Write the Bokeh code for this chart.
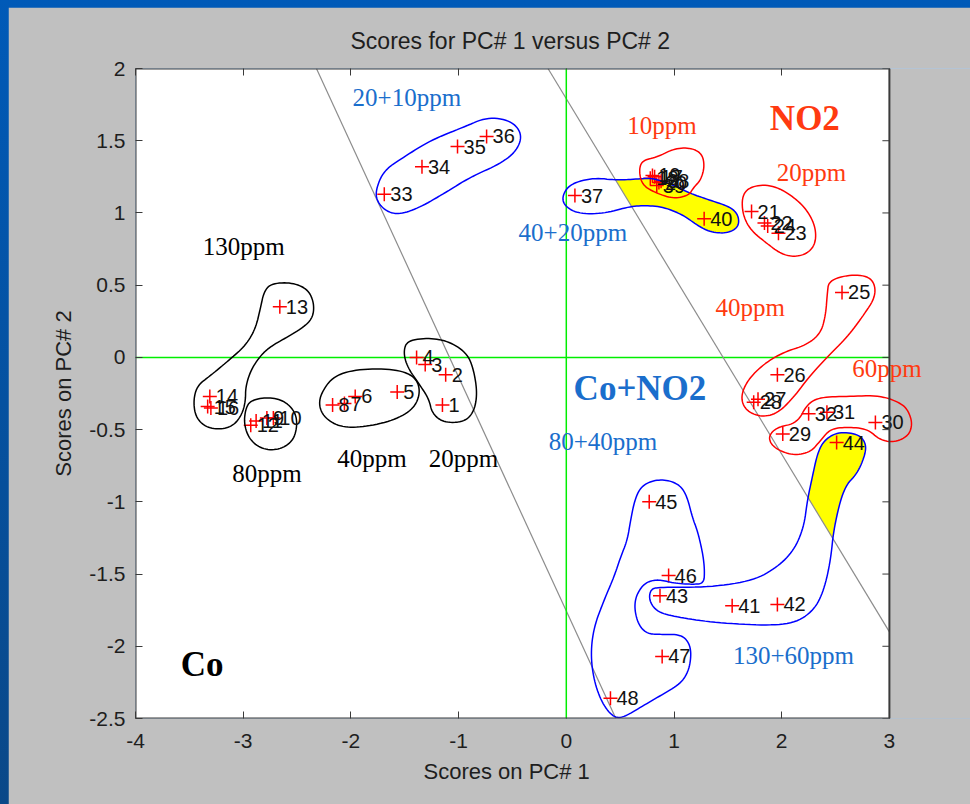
import numpy as np
from bokeh.plotting import figure
from bokeh.models import (Range1d, FixedTicker, LinearAxis, CustomJSTickFormatter, Title,
                          ColumnDataSource, Label, PolyAnnotation, Span, BoxAnnotation)
from bokeh.layouts import column
from bokeh.embed import file_html
from bokeh.resources import INLINE

# ---------------- data ----------------
sample_id = [str(i) for i in range(1, 49)]
pc1 = [-1.15, -1.12, -1.31, -1.39, -1.57, -1.96, -2.06, -2.17, -2.78, -2.72,
       -2.88, -2.93, -2.66, -3.31, -3.33, -3.30, 0.82, 0.78, 0.80, 0.86,
       1.72, 1.84, 1.97, 1.87, 2.56, 1.96, 1.78, 1.74, 2.01, 2.87,
       2.42, 2.25, -1.69, -1.34, -1.01, -0.74, 0.08, 0.88, 0.84, 1.28,
       1.54, 1.96, 0.87, 2.51, 0.77, 0.95, 0.89, 0.41]
pc2 = [-0.33, -0.12, -0.05, 0.00, -0.24, -0.27, -0.32, -0.33, -0.42, -0.42,
       -0.44, -0.47, 0.35, -0.27, -0.34, -0.35, 1.25, 1.24, 1.26, 1.21,
       1.01, 0.93, 0.86, 0.91, 0.45, -0.12, -0.29, -0.31, -0.53, -0.45,
       -0.38, -0.39, 1.13, 1.32, 1.46, 1.53, 1.12, 1.22, 1.19, 0.96,
       -1.72, -1.71, -1.65, -0.59, -1.00, -1.51, -2.07, -2.36]

x_ticks = [-4, -3, -2, -1, 0, 1, 2, 3]
x_tick_labels = ["-4", "-3", "-2", "-1", "0", "1", "2", "3"]
y_ticks = [-2.5, -2, -1.5, -1, -0.5, 0, 0.5, 1, 1.5, 2]
y_tick_labels = ["-2.5", "-2", "-1.5", "-1", "-0.5", "0", "0.5", "1", "1.5", "2"]

# class boundaries (grey lines)
divider_a_pc1 = [-2.32, 0.46]
divider_a_pc2 = [2.0, -2.5]
divider_b_pc1 = [-0.17, 3.0]
divider_b_pc2 = [2.0, -1.9]

# hand-drawn cluster outlines (PC1, PC2)
outline_co_130 = [(-2.745, 0.51), (-2.56, 0.52), (-2.405, 0.476), (-2.343, 0.383), (-2.35, 0.279),
                  (-2.436, 0.21), (-2.59, 0.141), (-2.745, 0.076), (-2.838, 0.014), (-2.931, -0.09),
                  (-2.978, -0.206), (-2.978, -0.298), (-3.008, -0.39), (-3.086, -0.471), (-3.21, -0.5),
                  (-3.349, -0.483), (-3.442, -0.413), (-3.463, -0.298), (-3.426, -0.194), (-3.302, -0.125),
                  (-3.116, -0.009), (-2.978, 0.083), (-2.885, 0.199), (-2.838, 0.348), (-2.808, 0.452)]
outline_co_80 = [(-2.931, -0.298), (-2.776, -0.275), (-2.622, -0.298), (-2.514, -0.379), (-2.498, -0.483),
                 (-2.544, -0.587), (-2.683, -0.644), (-2.838, -0.632), (-2.946, -0.563), (-2.993, -0.459),
                 (-2.978, -0.356)]
outline_co_40 = [(-2.281, -0.251), (-2.158, -0.125), (-1.91, -0.078), (-1.569, -0.083), (-1.399, -0.136),
                 (-1.353, -0.24), (-1.415, -0.356), (-1.601, -0.436), (-1.879, -0.483), (-2.095, -0.483),
                 (-2.234, -0.425), (-2.296, -0.345)]
outline_co_20 = [(-1.476, 0.118), (-1.26, 0.136), (-1.074, 0.106), (-0.919, 0.026), (-0.858, -0.09),
                 (-0.826, -0.251), (-0.858, -0.379), (-0.951, -0.448), (-1.137, -0.452), (-1.245, -0.39),
                 (-1.276, -0.286), (-1.369, -0.182), (-1.476, -0.067), (-1.513, 0.037)]
outline_mix_20_10 = [(-1.771, 1.157), (-1.694, 1.295), (-1.508, 1.387), (-1.26, 1.503), (-0.951, 1.595),
                     (-0.734, 1.664), (-0.517, 1.641), (-0.409, 1.549), (-0.455, 1.434), (-0.61, 1.341),
                     (-0.889, 1.249), (-1.137, 1.134), (-1.353, 1.041), (-1.539, 0.99), (-1.662, 1.006),
                     (-1.755, 1.075)]
outline_mix_40_20 = [(-0.037, 1.122), (0.04, 1.203), (0.256, 1.244), (0.473, 1.226), (0.69, 1.237),
                     (0.813, 1.24), (0.999, 1.191), (1.154, 1.134), (1.34, 1.087), (1.525, 1.041),
                     (1.6, 0.983), (1.6, 0.902), (1.495, 0.859), (1.34, 0.866), (1.216, 0.914),
                     (1.092, 0.983), (0.906, 1.041), (0.721, 1.053), (0.566, 1.041), (0.349, 0.995),
                     (0.102, 0.995), (-0.022, 1.053)]
outline_no2_10 = [(0.674, 1.295), (0.705, 1.364), (0.845, 1.387), (0.999, 1.445), (1.154, 1.452),
                  (1.262, 1.41), (1.284, 1.318), (1.247, 1.226), (1.185, 1.179), (1.138, 1.122),
                  (0.999, 1.099), (0.845, 1.134), (0.705, 1.191)]
outline_no2_20 = [(1.634, 1.134), (1.742, 1.191), (1.928, 1.191), (2.113, 1.11), (2.238, 1.018),
                  (2.315, 0.902), (2.315, 0.787), (2.238, 0.718), (2.113, 0.695), (1.99, 0.718),
                  (1.866, 0.787), (1.711, 0.88), (1.634, 0.995)]
outline_no2_40 = [(2.438, 0.533), (2.64, 0.575), (2.841, 0.556), (2.881, 0.429), (2.748, 0.279),
                  (2.609, 0.141), (2.423, 0.002), (2.253, -0.136), (2.113, -0.275), (1.959, -0.39),
                  (1.804, -0.413), (1.665, -0.367), (1.618, -0.275), (1.681, -0.159), (1.835, -0.044),
                  (2.02, 0.037), (2.222, 0.083), (2.361, 0.164), (2.408, 0.291), (2.423, 0.441)]
outline_no2_60 = [(1.881, -0.54), (1.959, -0.483), (2.145, -0.455), (2.238, -0.321), (2.361, -0.275),
                  (2.609, -0.27), (2.918, -0.263), (3.12, -0.321), (3.181, -0.379), (3.213, -0.459),
                  (3.181, -0.54), (3.058, -0.587), (2.918, -0.575), (2.795, -0.494), (2.609, -0.483),
                  (2.454, -0.494), (2.361, -0.575), (2.268, -0.656), (2.113, -0.679), (1.974, -0.644),
                  (1.897, -0.598)]
outline_mix_80_40 = [(1.278, -1.563), (1.284, -1.475), (1.272, -1.383), (1.247, -1.29), (1.216, -1.198),
                     (1.17, -1.106), (1.123, -0.967), (1.061, -0.887), (0.938, -0.847), (0.798, -0.852),
                     (0.69, -0.898), (0.634, -0.99), (0.597, -1.129), (0.566, -1.267), (0.504, -1.383),
                     (0.442, -1.522), (0.349, -1.683), (0.256, -1.868), (0.226, -2.052), (0.256, -2.237),
                     (0.334, -2.398), (0.442, -2.495), (0.535, -2.491), (0.69, -2.422), (0.876, -2.341),
                     (1.061, -2.26), (1.138, -2.168), (1.161, -2.052), (1.138, -1.972), (1.061, -1.918),
                     (0.876, -1.918), (0.752, -1.914), (0.674, -1.856), (0.634, -1.752), (0.643, -1.66),
                     (0.706, -1.579), (0.783, -1.545), (0.876, -1.54), (0.999, -1.563), (1.185, -1.572)]
outline_mix_130_60 = [(2.331, -0.667), (2.392, -0.575), (2.516, -0.517), (2.702, -0.528), (2.779, -0.587),
                      (2.779, -0.667), (2.702, -0.805), (2.578, -0.898), (2.485, -1.175), (2.454, -1.406),
                      (2.392, -1.613), (2.299, -1.752), (2.113, -1.844), (1.804, -1.856), (1.34, -1.833),
                      (1.031, -1.798), (0.845, -1.764), (0.767, -1.683), (0.783, -1.602), (0.876, -1.591),
                      (1.34, -1.591), (1.742, -1.544), (1.959, -1.452), (2.113, -1.337), (2.206, -1.175),
                      (2.238, -0.99), (2.284, -0.829)]

# text annotations
anno_text = ["20+10ppm", "40+20ppm", "80+40ppm", "130+60ppm", "Co+NO2",
             "130ppm", "80ppm", "40ppm", "20ppm", "Co",
             "10ppm", "20ppm", "40ppm", "60ppm", "NO2"]
anno_pc1 = [-1.984, -0.443, -0.164, 1.547, 0.068,
            -3.376, -3.101, -2.126, -1.276, -3.58,
            0.566, 1.953, 1.386, 2.656, 1.89]
anno_pc2 = [1.80, 0.866, -0.582, -2.064, -0.217,
            0.769, -0.806, -0.70, -0.70, -2.126,
            1.607, 1.283, 0.348, -0.078, 1.653]
anno_group = ["mix", "mix", "mix", "mix", "mix_head",
              "co", "co", "co", "co", "co_head",
              "no2", "no2", "no2", "no2", "no2_head"]

# ---------------- helpers ----------------
def chaikin(pts, n=3):
    for _ in range(n):
        new = []
        m = len(pts)
        for i in range(m):
            p0, p1 = pts[i], pts[(i + 1) % m]
            new.append((0.75 * p0[0] + 0.25 * p1[0], 0.75 * p0[1] + 0.25 * p1[1]))
            new.append((0.25 * p0[0] + 0.75 * p1[0], 0.25 * p0[1] + 0.75 * p1[1]))
        pts = new
    return pts


def clip_half(poly, a, b):
    def f(p):
        return (b[0] - a[0]) * (p[1] - a[1]) - (b[1] - a[1]) * (p[0] - a[0])
    out = []
    m = len(poly)
    for i in range(m):
        P, Q = poly[i], poly[(i + 1) % m]
        fp, fq = f(P), f(Q)
        if fp >= 0:
            out.append(P)
        if (fp >= 0) != (fq >= 0):
            t = fp / (fp - fq)
            out.append((P[0] + t * (Q[0] - P[0]), P[1] + t * (Q[1] - P[1])))
    return out

# ---------------- figure ----------------
AXIS_FONT = "Liberation Sans"
TXT = "#1e1e1e"
EDGE = "#3a3a3a"
PANEL = "#C0C0C0"

W, H = 962, 797
LEFT, TOP, BOTTOM = 127, 61, 86
x_lo, x_hi = x_ticks[0], x_ticks[-1]
y_lo, y_hi = y_ticks[0], y_ticks[-1]
# the frame runs on to the right edge so that texts and outlines may cross the box edge
px_per_unit = 107.7
x_view_hi = x_lo + (W - LEFT) / px_per_unit

p = figure(width=W, height=H, x_range=Range1d(x_lo, x_view_hi), y_range=Range1d(y_lo, y_hi),
           output_backend="svg", toolbar_location=None,
           min_border_left=LEFT, min_border_right=0, min_border_top=TOP, min_border_bottom=BOTTOM,
           background_fill_color="white", border_fill_color=PANEL, outline_line_color=None)
p.grid.visible = False

p.title.text = "Scores for PC# 1 versus PC# 2"
p.title.align = "left"
p.title.offset = 215
p.title.text_font = AXIS_FONT
p.title.text_font_size = "23px"
p.title.text_font_style = "normal"
p.title.text_color = TXT
p.title.standoff = 30

p.xaxis.ticker = FixedTicker(ticks=x_ticks)
p.yaxis.ticker = FixedTicker(ticks=y_ticks)
p.xaxis.major_label_overrides = {t: s for t, s in zip(x_ticks, x_tick_labels)}
p.yaxis.major_label_overrides = {t: s for t, s in zip(y_ticks, y_tick_labels)}
p.yaxis.axis_label = "Scores on PC# 2"
for ax in (p.xaxis[0], p.yaxis[0]):
    ax.major_tick_in = 7
    ax.major_tick_out = 0
    ax.minor_tick_line_color = None
    ax.axis_line_color = None
    ax.major_tick_line_color = EDGE
    ax.major_label_text_font = AXIS_FONT
    ax.major_label_text_font_size = "21px"
    ax.major_label_text_color = TXT
    ax.axis_label_text_font = AXIS_FONT
    ax.axis_label_text_font_size = "22px"
    ax.axis_label_text_font_style = "normal"
    ax.axis_label_text_color = TXT
p.xaxis.major_label_standoff = 15
p.yaxis.major_label_standoff = 10
p.yaxis.axis_label_standoff = 10

# x-axis title, centred under the plot box rather than under the whole frame
p.add_layout(Title(text="Scores on PC# 1", align="left", offset=288, standoff=13,
                   text_font=AXIS_FONT, text_font_size="22px", text_font_style="normal",
                   text_color=TXT), "below")

blank = CustomJSTickFormatter(code="return ''")
top_ax = LinearAxis(ticker=FixedTicker(ticks=x_ticks), formatter=blank, major_tick_in=7,
                    major_tick_out=0, minor_tick_line_color=None, axis_line_color=None,
                    major_tick_line_color=EDGE, major_label_standoff=0)
p.add_layout(top_ax, "above")

# grey panel to the right of the plot box
p.add_layout(BoxAnnotation(left=x_hi, fill_color=PANEL, fill_alpha=1.0, line_color=None,
                           line_alpha=0, level="underlay"))

# yellow: parts of Co+NO2 outlines lying on the NO2 side of the boundary
bnd_a = (divider_b_pc1[0], divider_b_pc2[0])
bnd_b = (divider_b_pc1[1], divider_b_pc2[1])
for ol in (outline_mix_40_20, outline_mix_130_60):
    sm = chaikin(ol)
    cl = clip_half(sm, bnd_a, bnd_b)
    if len(cl) > 2:
        p.patch([q[0] for q in cl], [q[1] for q in cl], fill_color="#FFFF00", line_color=None)

# axes through origin
p.add_layout(Span(location=0, dimension="height", line_color="#00EE00", line_width=1.5))
p.line([x_lo, x_hi], [0, 0], line_color="#00EE00", line_width=1.5)

# boundaries
p.line(divider_a_pc1, divider_a_pc2, line_color="#8c8c8c", line_width=1.2)
p.line(divider_b_pc1, divider_b_pc2, line_color="#8c8c8c", line_width=1.2)

# right-hand inward ticks
p.ray(x=[x_hi] * len(y_ticks), y=y_ticks, length=7, length_units="screen", angle=np.pi,
      line_color=EDGE, line_width=1)

# plot box
p.add_layout(BoxAnnotation(left=x_lo, right=x_hi, bottom=y_lo, top=y_hi, fill_alpha=0,
                           fill_color=None, line_color=EDGE, line_alpha=1.0, line_width=2,
                           level="overlay"))

# outlines
outline_sets = [
    (outline_co_130, "black"), (outline_co_80, "black"), (outline_co_40, "black"),
    (outline_co_20, "black"), (outline_mix_20_10, "#0000FF"), (outline_mix_40_20, "#0000FF"),
    (outline_mix_80_40, "#0000FF"), (outline_mix_130_60, "#0000FF"),
    (outline_no2_10, "#FF0000"), (outline_no2_20, "#FF0000"), (outline_no2_40, "#FF0000"),
    (outline_no2_60, "#FF0000"),
]
for ol, col in outline_sets:
    sm = chaikin(ol)
    p.add_layout(PolyAnnotation(xs=[q[0] for q in sm], ys=[q[1] for q in sm],
                                fill_color=None, fill_alpha=0, line_color=col,
                                line_alpha=1.0, line_width=1.5))

# points
src = ColumnDataSource(dict(x=pc1, y=pc2, t=sample_id))
p.scatter("x", "y", source=src, marker="cross", size=14, line_color="#FF0000", line_width=1.5)
for xx, yy, tt in zip(pc1, pc2, sample_id):
    p.add_layout(Label(x=xx, y=yy, text=tt, x_offset=6, text_baseline="middle",
                       text_font=AXIS_FONT, text_font_size="20px", text_color="#111111"))

# annotation texts
styles = {
    "mix": ("#1A6ECC", "25px", "normal"), "mix_head": ("#1A6ECC", "35px", "bold"),
    "co": ("#000000", "25px", "normal"), "co_head": ("#000000", "35px", "bold"),
    "no2": ("#FF3A10", "25px", "normal"), "no2_head": ("#FF3A10", "35px", "bold"),
}
for xx, yy, tt, g in zip(anno_pc1, anno_pc2, anno_text, anno_group):
    col, size, style = styles[g]
    p.add_layout(Label(x=xx, y=yy, text=tt, text_baseline="middle",
                       text_font="Liberation Serif", text_font_size=size,
                       text_font_style=style, text_color=col))

root = column(p, styles={"background": "linear-gradient(to bottom, #005AB8, #0A4888)",
                         "padding-left": "8px", "padding-top": "7px"})

open("out.html", "w").write(file_html(root, INLINE))
